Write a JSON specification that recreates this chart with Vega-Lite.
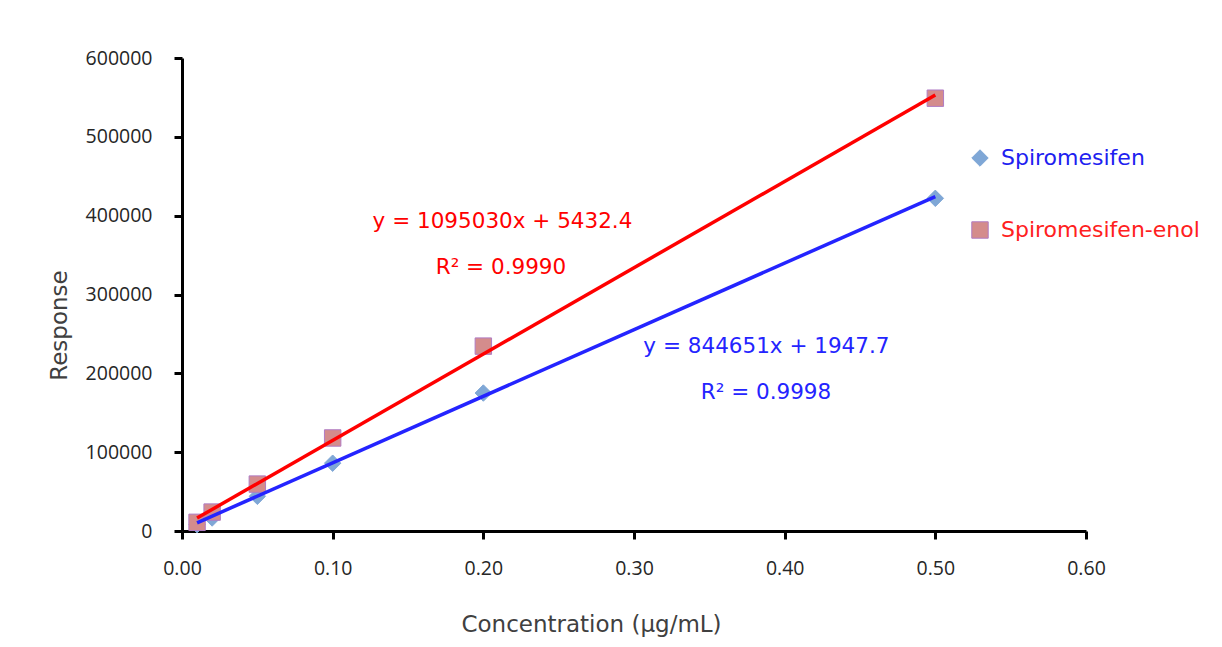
{
  "$schema": "https://vega.github.io/schema/vega-lite/v6.json",
  "width": 904,
  "height": 473,
  "autosize": {"type": "none"},
  "padding": {"left": 182, "top": 58, "right": 136, "bottom": 116},
  "background": "white",
  "config": {
    "view": {"stroke": null},
    "font": "DejaVu Sans",
    "axis": {
      "grid": false,
      "domainColor": "black",
      "domainWidth": 3,
      "tickColor": "black",
      "tickWidth": 3,
      "tickSize": 8,
      "labelFont": "Open Sans",
      "labelFontSize": 19.5,
      "labelColor": "#262626",
      "titleFont": "DejaVu Sans",
      "titleFontSize": 23,
      "titleFontWeight": "normal",
      "titleColor": "#404040"
    }
  },
  "datasets": {
    "pts": [
      {"conc": 0.01, "resp": 8000, "compound": "Spiromesifen"},
      {"conc": 0.02, "resp": 16500, "compound": "Spiromesifen"},
      {"conc": 0.05, "resp": 44000, "compound": "Spiromesifen"},
      {"conc": 0.1, "resp": 86000, "compound": "Spiromesifen"},
      {"conc": 0.2, "resp": 175000, "compound": "Spiromesifen"},
      {"conc": 0.5, "resp": 422000, "compound": "Spiromesifen"},
      {"conc": 0.01, "resp": 11000, "compound": "Spiromesifen-enol"},
      {"conc": 0.02, "resp": 24000, "compound": "Spiromesifen-enol"},
      {"conc": 0.05, "resp": 59500, "compound": "Spiromesifen-enol"},
      {"conc": 0.1, "resp": 118000, "compound": "Spiromesifen-enol"},
      {"conc": 0.2, "resp": 234500, "compound": "Spiromesifen-enol"},
      {"conc": 0.5, "resp": 549000, "compound": "Spiromesifen-enol"}
    ],
    "fits": [
      {"conc": 0.01, "resp": 10394, "compound": "Spiromesifen"},
      {"conc": 0.5, "resp": 424273, "compound": "Spiromesifen"},
      {"conc": 0.01, "resp": 16383, "compound": "Spiromesifen-enol"},
      {"conc": 0.5, "resp": 552947, "compound": "Spiromesifen-enol"}
    ],
    "notes": [
      {"conc": 0.2127, "resp": 392000, "label": "y = 1095030x + 5432.4", "compound": "Spiromesifen-enol"},
      {"conc": 0.2117, "resp": 333600, "label": "R² = 0.9990", "compound": "Spiromesifen-enol"},
      {"conc": 0.3879, "resp": 233400, "label": "y = 844651x + 1947.7", "compound": "Spiromesifen"},
      {"conc": 0.3876, "resp": 175000, "label": "R² = 0.9998", "compound": "Spiromesifen"}
    ]
  },
  "layer": [
    {
      "data": {"name": "pts"},
      "mark": {"type": "point", "filled": true, "size": 270, "opacity": 1, "strokeWidth": 1},
      "encoding": {
        "x": {
          "field": "conc", "type": "quantitative",
          "scale": {"domain": [0, 0.6]},
          "axis": {"values": [0, 0.1, 0.2, 0.3, 0.4, 0.5, 0.6], "format": ".2f", "labelPadding": 20, "titlePadding": 36, "titleX": 409, "labelFlush": false},
          "title": "Concentration (µg/mL)"
        },
        "y": {
          "field": "resp", "type": "quantitative",
          "scale": {"domain": [0, 600000]},
          "axis": {"values": [0, 100000, 200000, 300000, 400000, 500000, 600000], "format": "d", "labelPadding": 22, "titlePadding": 14, "titleY": 267, "labelFlush": false},
          "title": "Response"
        },
        "fill": {
          "field": "compound", "type": "nominal",
          "scale": {"domain": ["Spiromesifen", "Spiromesifen-enol"], "range": ["#7fa7d6", "#d48c8c"]},
          "title": null
        },
        "stroke": {
          "field": "compound", "type": "nominal",
          "scale": {"domain": ["Spiromesifen", "Spiromesifen-enol"], "range": ["#7fa7d6", "#b07cc4"]},
          "title": null
        },
        "shape": {
          "field": "compound", "type": "nominal",
          "scale": {"domain": ["Spiromesifen", "Spiromesifen-enol"], "range": ["diamond", "square"]},
          "title": null,
          "legend": {
            "orient": "none",
            "legendX": 787,
            "legendY": 89,
            "symbolSize": 270,
            "symbolStrokeWidth": 1,
            "rowPadding": 50,
            "labelFontSize": 22,
            "labelFont": "DejaVu Sans",
            "labelOffset": 10,
            "labelLimit": 0,
            "labelColor": {"expr": "datum.value == 'Spiromesifen' ? '#2020f0' : '#ff2020'"}
          }
        }
      }
    },
    {
      "data": {"name": "fits"},
      "mark": {"type": "line", "strokeWidth": 3.5},
      "encoding": {
        "x": {"field": "conc", "type": "quantitative"},
        "y": {"field": "resp", "type": "quantitative"},
        "detail": {"field": "compound"},
        "color": {
          "field": "compound", "type": "nominal",
          "scale": {"domain": ["Spiromesifen", "Spiromesifen-enol"], "range": ["#2424ff", "#ff0000"]},
          "legend": null
        }
      }
    },
    {
      "data": {"name": "notes"},
      "mark": {"type": "text", "fontSize": 21.5, "font": "DejaVu Sans", "align": "center", "baseline": "middle"},
      "encoding": {
        "x": {"field": "conc", "type": "quantitative"},
        "y": {"field": "resp", "type": "quantitative"},
        "text": {"field": "label"},
        "color": {
          "field": "compound", "type": "nominal",
          "scale": {"domain": ["Spiromesifen", "Spiromesifen-enol"], "range": ["#2424ff", "#ff0000"]},
          "legend": null
        }
      }
    }
  ]
}
